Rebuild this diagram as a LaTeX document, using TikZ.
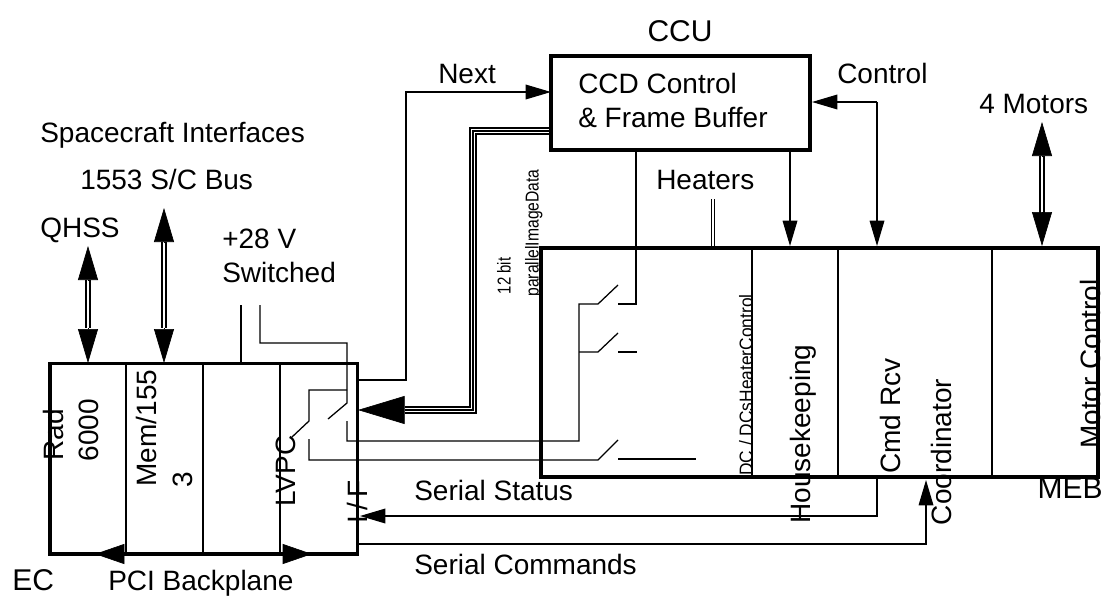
\documentclass[tikz,border=0pt]{standalone}
\usepackage{fontspec}
\setmainfont{Liberation Sans}
\usetikzlibrary{arrows.meta}
\tikzset{
  wire/.style={draw=black,line width=0.95pt},
  boxln/.style={draw=black,line width=2.3pt,line cap=round},
  lbl/.style={inner sep=0pt,text height=15pt,text depth=0pt,font=\fontsize{21}{24}\selectfont},
  lblb/.style={inner sep=0pt,text height=16pt,text depth=0pt,font=\fontsize{22.5}{26}\selectfont},
  tiny/.style={inner sep=0pt,text height=10pt,text depth=0pt,font=\fontsize{14}{16}\selectfont},
  hdS/.style={draw=black,line width=0.95pt,-{Triangle[length=19pt,width=11pt]}},
  hdB/.style={draw=black,line width=0.5pt,-{Triangle[length=25.5pt,width=15pt]}},
  hdT/.style={draw=black,line width=0.5pt,-{Triangle[length=35pt,width=21pt]}},
  hdP/.style={draw=black,line width=0.5pt,-{Triangle[length=22pt,width=15pt]}},
  dblO/.style={draw=black,line width=4.4pt},
  dblI/.style={draw=white,line width=2pt},
}
\begin{document}
\begin{tikzpicture}[x=0.75pt,y=-0.75pt]
\useasboundingbox (0,0) rectangle (1103,596);
\fill[white] (0,0) rectangle (1103,596);
% corner coordinates
\coordinate (ecnw) at (50,363.5); \coordinate (ecse) at (357.5,554);
\coordinate (ccnw) at (551,56); \coordinate (ccse) at (810,150);
\coordinate (menw) at (541,248); \coordinate (mese) at (1098,477);
% double-line links
\coordinate (qT) at (88,246); \coordinate (qTb) at (88,280); \coordinate (qB) at (88,363); \coordinate (qBb) at (88,328);
\coordinate (bT) at (164,208); \coordinate (bTb) at (164,242); \coordinate (bB) at (164,363); \coordinate (bBb) at (164,328);
\coordinate (mT) at (1042,122); \coordinate (mTb) at (1042,156); \coordinate (mB) at (1042,246); \coordinate (mBb) at (1042,213);
\coordinate (h1) at (713,199); \coordinate (h2) at (713,248);
\foreach \a/\b in {qTb/qBb,bTb/bBb,mTb/mBb} {
  \path[dblO] (\a) -- (\b); \path[dblI] (\a) -- (\b);
}
\path[draw=black,line width=3.6pt] (h1) -- (h2); \path[draw=white,line width=1.5pt] (h1) -- (h2);
\foreach \a/\b in {qTb/qT,qBb/qB,bTb/bT,bBb/bB,mTb/mT,mBb/mB} \draw[hdB] (\a) -- (\b);
% image data triple line
\coordinate (t1) at (551,131); \coordinate (t2) at (473,131); \coordinate (t3) at (473,410); \coordinate (t4) at (405,410); \coordinate (t5) at (358,410);
\draw[line width=6.4pt] (t1) -- (t2) -- (t3) -- (t4);
\draw[white,line width=3.6pt] (t1) -- (t2) -- (t3) -- (t4);
\draw[line width=1.6pt] (t1) -- (t2) -- (t3) -- (t4);
\draw[hdT] (t4) -- (t5);
% boxes
\path[boxln] (ecnw) rectangle (ecse);
\path[boxln] (ccnw) rectangle (ccse);
\path[boxln] (menw) rectangle (mese);
% backplane
\coordinate (pL) at (126,554); \coordinate (pR) at (280,554);
\coordinate (pLt) at (95,554); \coordinate (pRt) at (312,554);
\coordinate (pLb) at (124,554); \coordinate (pRb) at (282,554);
\draw[line width=3.2pt] (pL) -- (pR);
\draw[hdP] (pLb) -- (pLt);
\draw[hdP] (pRb) -- (pRt);
% dividers
\foreach \x in {126,203,280} \draw[wire] (\x,363.5) -- (\x,554);
\foreach \x in {752,838,992} \draw[wire] (\x,248) -- (\x,477);
% +28V and switches
\draw[wire] (241,305) -- (241,363.5);
\draw[wire] (260,305) -- (260,343) -- (347,343) -- (347,403) -- (328,419);
\draw[wire] (347,421) -- (347,441) -- (579,441) -- (579,304) -- (598,304) -- (618,285);
\draw[wire] (618,304) -- (636,304) -- (636,150);
\draw[wire] (579,352) -- (598,352) -- (618,333);
\draw[wire] (618,352) -- (637,352);
\draw[wire] (347,390) -- (309,390) -- (309,421) -- (292,437);
\draw[wire] (309,439) -- (309,460) -- (598,460) -- (618,440);
\draw[wire] (618,459) -- (696,459);
% next
\coordinate (nA) at (357.5,380); \coordinate (nB) at (406,380); \coordinate (nC) at (406,92); \coordinate (nD) at (551,92);
\draw[hdS] (nA) -- (nB) -- (nC) -- (nD);
% control
\coordinate (cA) at (877,102); \coordinate (cB) at (812,102); \coordinate (cC) at (877,246);
\draw[hdS] (cA) -- (cB);
\draw[hdS] (cA) -- (cC);
% ccd to housekeeping
\coordinate (kA) at (790,150); \coordinate (kB) at (790,246);
\draw[hdS] (kA) -- (kB);
% serial
\coordinate (sA) at (877,477); \coordinate (sB) at (877,516); \coordinate (sC) at (360,516);
\draw[hdS] (sA) -- (sB) -- (sC);
\coordinate (xA) at (357.5,544); \coordinate (xB) at (926,544); \coordinate (xC) at (926,480);
\draw[hdS] (xA) -- (xB) -- (xC);
% labels
\node[lblb] (ccu) at (680,31) {CCU};
\node[lbl,anchor=west] (ccd) at (578,83) {CCD Control};
\node[lbl,anchor=west] (fb) at (578,117) {\& Frame Buffer};
\node[lbl,anchor=west] (nx) at (438,73) {Next};
\node[lbl,anchor=west] (ct) at (837,73) {Control};
\node[lbl,anchor=west] (mo) at (979,103) {4 Motors};
\node[lbl,anchor=west] (ht) at (656,179) {Heaters};
\node[lbl,anchor=west] (si) at (40,132) {Spacecraft Interfaces};
\node[lbl,anchor=west] (bu) at (80,179) {1553 S/C Bus};
\node[lbl,anchor=west] (qh) at (40,227) {QHSS};
\node[lbl,anchor=west] (pv) at (222,238) {+28 V};
\node[lbl,anchor=west] (sw) at (222,272) {Switched};
\node[lblb,anchor=west] (ec) at (12,580) {EC};
\node[lbl,anchor=west] (pc) at (108,580) {PCI Backplane};
\node[lbl,anchor=west] (ss) at (414,490) {Serial Status};
\node[lbl,anchor=west] (sc) at (414,564) {Serial Commands};
\node[lblb,anchor=east] (mb) at (1103,488) {MEB};
% rotated labels
\node[lbl,rotate=90] (rd) at (53,435) {Rad};
\node[lbl,rotate=90] (r6) at (88,430) {6000};
\node[lbl,rotate=90] (mm) at (146,428) {Mem/155};
\node[lbl,rotate=90] (m3) at (182,480) {3};
\node[lbl,rotate=90] (lv) at (285,471) {LVPC};
\node[lbl,rotate=90] (if) at (357,502) {I\kern4pt/\kern4pt F};
\node[lbl,rotate=90] (hk) at (800,434) {Housekeeping};
\node[lbl,rotate=90] (cr) at (890,416) {Cmd Rcv};
\node[lbl,rotate=90] (co) at (941,452) {Coordinator};
\node[lbl,rotate=90] (mc) at (1090,364) {Motor Control};
\node[tiny,rotate=90] (dc) at (746,385) {\scalebox{0.93}[1]{DC / DCsHeaterControl}};
\node[tiny,rotate=90] (bt) at (504,276) {\scalebox{0.8}[1]{12 bit}};
\node[tiny,rotate=90] (pi) at (532,233) {\scalebox{0.84}[1]{parallelImageData}};
\end{tikzpicture}
\end{document}
